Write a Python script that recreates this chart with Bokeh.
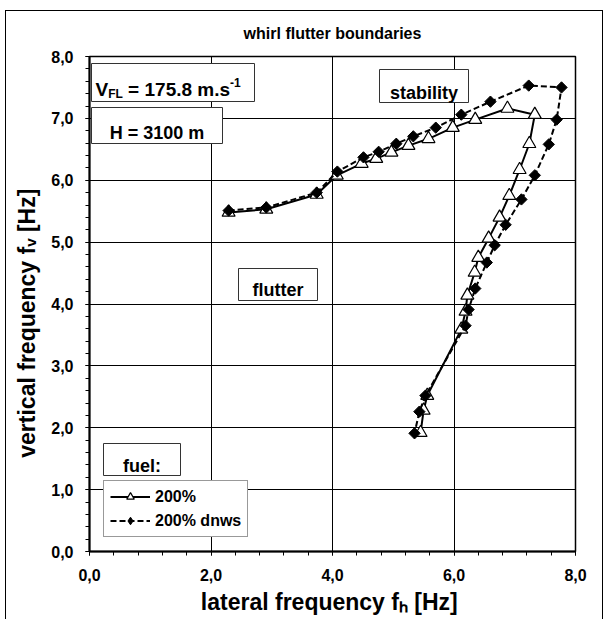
import numpy as np
from bokeh.plotting import figure
from bokeh.models import Range1d, FixedTicker, Label, BoxAnnotation, Legend, LegendItem
from bokeh.embed import file_html
from bokeh.resources import INLINE

# ---------------- data ----------------
title_text = "whirl flutter boundaries"
x_title = "lateral frequency  f\u2095 [Hz]"
y_title = "vertical frequency  f\u1d65 [Hz]"

series1_name = "200%"
s1_x = [2.29, 2.91, 3.74, 4.07, 4.48, 4.72, 4.97, 5.25, 5.58, 5.98, 6.35, 6.88, 7.33,
        7.24, 7.08, 6.91, 6.75, 6.57, 6.40, 6.34, 6.22, 6.19, 6.12, 5.56, 5.50, 5.45]
s1_y = [5.48, 5.53, 5.77, 6.08, 6.27, 6.35, 6.45, 6.56, 6.67, 6.85, 6.98, 7.16, 7.06,
        6.59, 6.17, 5.75, 5.40, 5.06, 4.75, 4.51, 4.14, 3.88, 3.59, 2.52, 2.28, 1.92]

series2_name = "200% dnws"
s2_x = [2.29, 2.91, 3.74, 4.08, 4.51, 4.76, 5.05, 5.33, 5.70, 6.12, 6.60, 7.23, 7.77,
        7.69, 7.56, 7.33, 7.11, 6.85, 6.67, 6.54, 6.35, 6.24, 6.19, 5.53, 5.43, 5.35]
s2_y = [5.51, 5.56, 5.80, 6.14, 6.37, 6.46, 6.59, 6.71, 6.85, 7.06, 7.27, 7.53, 7.50,
        6.98, 6.58, 6.08, 5.69, 5.28, 4.95, 4.67, 4.25, 3.91, 3.65, 2.52, 2.26, 1.91]

x_ticks = [0, 2, 4, 6, 8]
x_tick_labels = ["0,0", "2,0", "4,0", "6,0", "8,0"]
y_ticks = [0, 1, 2, 3, 4, 5, 6, 7, 8]
y_tick_labels = ["0,0", "1,0", "2,0", "3,0", "4,0", "5,0", "6,0", "7,0", "8,0"]

vfl_text = ["V", "FL", "= 175.8 m.s", "-1"]
h_text = "H = 3100 m"
stability_text = "stability"
flutter_text = "flutter"
fuel_text = "fuel:"

# ---------------- layout helpers ----------------
W, H = 608, 619
FL, FR, FT, FB = 89, 575, 56, 551  # frame edges in px
FONT = "Liberation Sans"

def dx(px):
    return (px - FL) / (FR - FL) * 8.0

def dy(py):
    return (FB - py) / (FB - FT) * 8.0

CW = {' ': 278, '%': 889, ',': 278, '-': 333, '.': 278, '=': 584, '[': 333, ']': 333, ':': 333,
      'F': 611, 'H': 722, 'L': 611, 'V': 667,
      'a': 556, 'b': 611, 'c': 556, 'd': 611, 'e': 556, 'f': 333, 'g': 611, 'h': 611, 'i': 278,
      'l': 278, 'm': 889, 'n': 611, 'o': 611, 'q': 611, 'r': 389, 's': 556, 't': 333, 'u': 611,
      'v': 556, 'w': 778, 'y': 556, 'z': 500}

def tw(s, fs):
    return sum(CW.get(c, 556) for c in s) / 1000.0 * fs

p = figure(width=W, height=H, x_range=Range1d(0, 8), y_range=Range1d(0, 8),
           output_backend="svg", toolbar_location=None,
           min_border_left=FL, min_border_right=W - FR, min_border_top=FT, min_border_bottom=H - FB)
p.background_fill_color = "white"
p.border_fill_color = "white"
p.border_fill_alpha = 0
p.outline_line_color = "black"
p.outline_line_width = 1.5
# outer chart-area border (left, top, right edges) painted behind the transparent border area
p.styles = {
    "background-color": "white",
    "background-image": "linear-gradient(#000,#000), linear-gradient(#000,#000), linear-gradient(#000,#000)",
    "background-size": "598px 1px, 1px 609px, 1px 609px",
    "background-position": "5px 10px, 5px 10px, 602px 10px",
    "background-repeat": "no-repeat",
}

# title
p.title.text = title_text
p.title.align = "center"
p.title.text_font = FONT
p.title.text_font_style = "bold"
p.title.text_font_size = "16px"
p.title.text_color = "black"
p.title.standoff = 30

# axes
p.xaxis.ticker = FixedTicker(ticks=x_ticks, minor_ticks=[i * 0.4 for i in range(21)])
p.yaxis.ticker = FixedTicker(ticks=y_ticks, minor_ticks=[i * 0.2 for i in range(41)])
p.xaxis.major_label_overrides = {float(t): l for t, l in zip(x_ticks, x_tick_labels)}
p.yaxis.major_label_overrides = {float(t): l for t, l in zip(y_ticks, y_tick_labels)}
p.xaxis.axis_label = x_title
p.yaxis.axis_label = y_title + "\u00a0" * 5
for ax in (p.xaxis[0], p.yaxis[0]):
    ax.axis_line_color = "black"
    ax.axis_line_width = 2
    ax.major_tick_line_color = "black"
    ax.minor_tick_line_color = "black"
    ax.major_tick_in = 4
    ax.major_tick_out = 4
    ax.minor_tick_in = 0
    ax.minor_tick_out = 4
    ax.major_label_text_font = FONT
    ax.major_label_text_font_style = "bold"
    ax.major_label_text_font_size = "16px"
    ax.major_label_text_color = "black"
    ax.axis_label_text_font = FONT
    ax.axis_label_text_font_style = "bold"
    ax.axis_label_text_font_size = "23px"
    ax.axis_label_text_color = "black"
p.xaxis.major_label_standoff = 13
p.yaxis.major_label_standoff = 12
p.xaxis.axis_label_standoff = 5
p.yaxis.axis_label_standoff = 8

p.xgrid.grid_line_color = "black"
p.ygrid.grid_line_color = "black"
p.xgrid.grid_line_width = 1
p.ygrid.grid_line_width = 1

# data
l1 = p.line(s1_x, s1_y, line_color="black", line_width=2)
m1 = p.scatter(s1_x, s1_y, marker="triangle", size=13, fill_color="white",
               line_color="black", line_width=1.2)
l2 = p.line(s2_x, s2_y, line_color="black", line_width=2, line_dash="6 3")
m2 = p.scatter(s2_x, s2_y, marker="square", angle=np.pi / 4, size=8,
               fill_color="black", line_color="black")
# legend-only key for the diamond symbol (legend glyphs ignore marker angle); NaN -> not drawn in plot
m2_key = p.scatter(x=[np.nan], y=[np.nan], marker="diamond", size=13,
                   fill_color="black", line_color="black")

legend = Legend(items=[LegendItem(label=series1_name, renderers=[l1, m1]),
                       LegendItem(label=series2_name, renderers=[l2, m2_key])],
                location=(14, 14))
legend.label_text_font = FONT
legend.label_text_font_style = "bold"
legend.label_text_font_size = "16px"
legend.label_text_color = "black"
legend.border_line_color = "#333333"
legend.border_line_width = 1
legend.background_fill_color = "white"
legend.background_fill_alpha = 1
legend.padding = 6
legend.spacing = 5
legend.margin = 0
legend.glyph_width = 40
legend.glyph_height = 19
legend.label_height = 19
legend.label_standoff = 5
p.add_layout(legend)

# text boxes
boxes = [(91, 254, 63, 101), (91, 222, 107, 143), (379, 468, 69, 102),
         (238, 317, 268, 300), (103, 180, 443, 475)]
for (l, r, t, b) in boxes:
    p.add_layout(BoxAnnotation(left=dx(l), right=dx(r), top=dy(t), bottom=dy(b),
                               fill_color="white", fill_alpha=1,
                               line_color="#333333", line_width=1, line_alpha=1))

def lab(text, x, y, fs, align="left", xo=0, yo=0):
    p.add_layout(Label(x=x, y=y, text=text, x_offset=xo, y_offset=yo,
                       text_font=FONT, text_font_style="bold", text_font_size=f"{fs}px",
                       text_color="black", text_align=align, text_baseline="alphabetic"))

BFS = 18
lab(h_text, dx(156.5), dy(132), BFS, "center")
lab(stability_text, dx(423.5), dy(92), BFS, "center")
lab(flutter_text, dx(277.5), dy(289), BFS, "center")
lab(fuel_text, dx(141.5), dy(465), BFS, "center")

# V_FL composite (main text, subscript, main text, superscript)
mf, sf = 19, 12
xs = 95
lab(vfl_text[0], 0, 8, mf, "left", xo=xs - FL, yo=-(89 - FT))
xs += tw(vfl_text[0], mf)
lab(vfl_text[1], 0, 8, sf, "left", xo=xs - FL, yo=-(93 - FT))
xs += tw(vfl_text[1], sf) + tw(" ", mf)
lab(vfl_text[2], 0, 8, mf, "left", xo=xs - FL, yo=-(89 - FT))
xs += tw(vfl_text[2], mf)
lab(vfl_text[3], 0, 8, sf, "left", xo=xs - FL, yo=-(82 - FT))

open("out.html", "w").write(file_html(p, INLINE))
